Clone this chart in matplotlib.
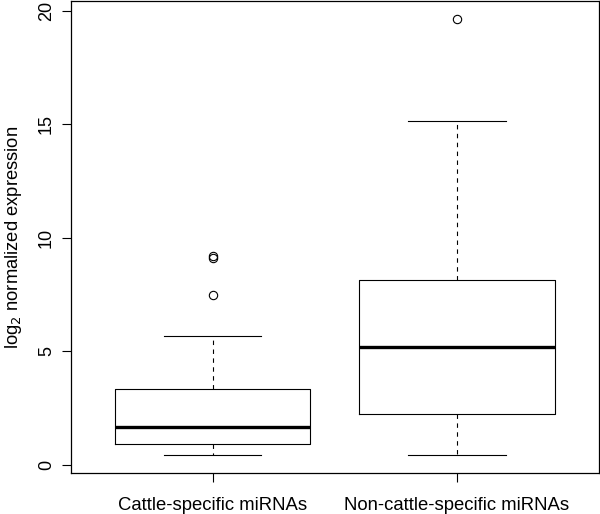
import matplotlib
matplotlib.use('Agg')
import matplotlib.pyplot as plt

# ---- data ----
groups = ['Cattle-specific miRNAs', 'Non-cattle-specific miRNAs']
whisker_low = [0.41, 0.41]
q1 = [0.91, 2.24]
median = [1.68, 5.17]
q3 = [3.33, 8.15]
whisker_high = [5.67, 15.13]
outliers = [[7.46, 9.12, 9.20], [19.65]]

plt.rcParams['font.family'] = ['Liberation Sans', 'DejaVu Sans']

stats = []
for i, name in enumerate(groups):
    stats.append({
        'label': name,
        'whislo': whisker_low[i],
        'q1': q1[i],
        'med': median[i],
        'q3': q3[i],
        'whishi': whisker_high[i],
        'fliers': outliers[i],
    })

fig = plt.figure(figsize=(6.0, 5.14), dpi=100)
ax = fig.add_axes([0.118, 0.080, 0.880, 0.918])

ax.bxp(stats, positions=[1, 2], widths=0.8, patch_artist=False,
       boxprops=dict(color='black', linewidth=0.8),
       medianprops=dict(color='black', linewidth=2.4),
       whiskerprops=dict(color='black', linewidth=0.8, linestyle=(0, (4, 4))),
       capprops=dict(color='black', linewidth=0.8),
       capwidths=0.4,
       flierprops=dict(marker='o', markerfacecolor='none', markeredgecolor='black',
                       markersize=6, markeredgewidth=0.8))

ax.set_xlim(0.42, 2.58)
ax.set_ylim(-0.36, 20.42)
ax.set_yticks([0, 5, 10, 15, 20])
ax.set_xticks([1, 2])
ax.set_xticklabels(groups, fontsize=13.3)
for lab in ax.get_yticklabels():
    lab.set_rotation(90)
    lab.set_va('center')
ax.tick_params(axis='y', labelsize=13, length=6.5, width=0.8, pad=5)
ax.tick_params(axis='x', length=6.5, width=0.8, pad=11)
for s in ax.spines.values():
    s.set_linewidth(0.9)
ax.set_ylabel('log$_2$ normalized expression', fontsize=13.2, labelpad=10)

fig.savefig('out.png', dpi=100)
